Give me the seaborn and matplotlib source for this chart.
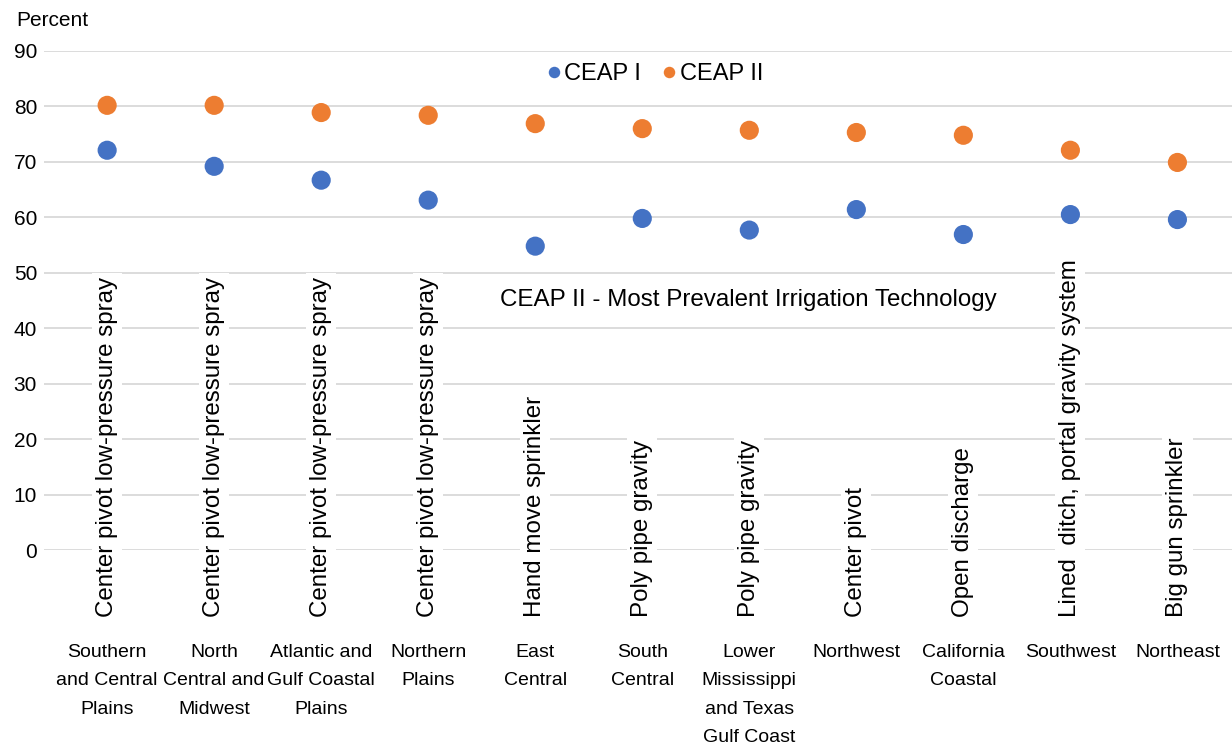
import pandas as pd
import matplotlib.pyplot as plt
import seaborn as sns

sns.set_style('white')
plt.rcParams['font.family'] = ['Liberation Sans', 'DejaVu Sans']
plt.rcParams['text.color'] = 'black'
plt.rcParams['xtick.color'] = 'black'
plt.rcParams['ytick.color'] = 'black'

# data
regions = ['Southern\nand Central\nPlains', 'North\nCentral and\nMidwest',
           'Atlantic and\nGulf Coastal\nPlains', 'Northern\nPlains', 'East\nCentral',
           'South\nCentral', 'Lower\nMississippi\nand Texas\nGulf Coast', 'Northwest',
           'California\nCoastal', 'Southwest', 'Northeast']
ceap1 = [72.1, 69.2, 66.7, 63.1, 54.8, 59.8, 57.7, 61.4, 56.9, 60.5, 59.6]
ceap2 = [80.2, 80.2, 78.9, 78.4, 76.9, 76.0, 75.7, 75.3, 74.8, 72.1, 69.9]
technology = ['Center pivot low-pressure spray', 'Center pivot low-pressure spray',
              'Center pivot low-pressure spray', 'Center pivot low-pressure spray',
              'Hand move sprinkler', 'Poly pipe gravity', 'Poly pipe gravity',
              'Center pivot', 'Open discharge', 'Lined  ditch, portal gravity system',
              'Big gun sprinkler']

n = len(regions)
df = pd.DataFrame({
    'pos': list(range(n)) * 2,
    'pct': ceap1 + ceap2,
    'survey': ['CEAP I'] * n + ['CEAP II'] * n,
})

fig = plt.figure(figsize=(12.32, 7.44), dpi=100)
ax = fig.add_axes([44 / 1232, 194 / 744, 1 - 44 / 1232, 499 / 744])

sns.scatterplot(data=df, x='pos', y='pct', hue='survey',
                palette={'CEAP I': '#4472C4', 'CEAP II': '#ED7D31'},
                s=190, linewidth=0, ax=ax, zorder=4)

ax.set_xlim(-0.59, 10.51)
ax.set_ylim(0, 90)
ax.set_yticks(range(0, 91, 10))
ax.yaxis.grid(True, color='#D9D9D9', linewidth=1.3)
ax.set_axisbelow(True)
for s in ax.spines.values():
    s.set_visible(False)
ax.set_xlabel('')
ax.set_ylabel('')
ax.tick_params(axis='y', length=0, pad=5, labelsize=15)
ax.set_xticks(range(n))
ax.set_xticklabels(regions, fontsize=14, linespacing=1.85)
ax.tick_params(axis='x', length=0, pad=68)

# most prevalent technology, written upright over the grid
for i, t in enumerate(technology):
    ax.text(i, -12.1, t, rotation=90, ha='center', va='bottom', fontsize=17.4,
            clip_on=False, zorder=3,
            bbox=dict(facecolor='white', edgecolor='none', pad=3))

ax.text(5.99, 45.1, 'CEAP II - Most Prevalent Irrigation Technology',
        ha='center', va='center', fontsize=17.4, zorder=3)

fig.text(16 / 1232, 1 - 20 / 744, 'Percent', ha='left', va='center', fontsize=15)

leg = ax.legend(loc='center', bbox_to_anchor=(655 / 1232, 1 - 74 / 744),
                bbox_transform=fig.transFigure, ncol=2, frameon=False,
                fontsize=17, markerscale=0.6, handlelength=0.6, handletextpad=0.15,
                columnspacing=0.9, borderpad=0)

fig.savefig('out.png', dpi=100)
